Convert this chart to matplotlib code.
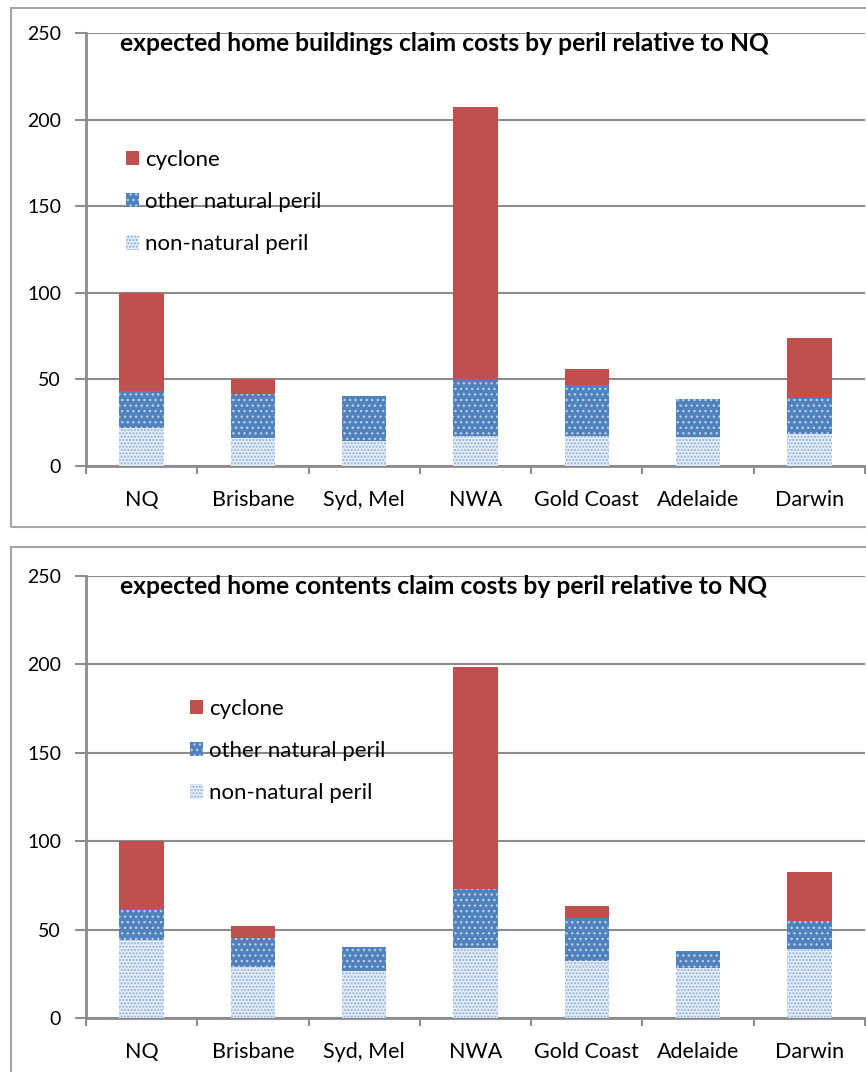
import matplotlib
matplotlib.use("Agg")
import matplotlib.pyplot as plt
from matplotlib.patches import Rectangle, Patch
import numpy as np

plt.rcParams['font.family'] = ['Lato', 'DejaVu Sans']
plt.rcParams['hatch.linewidth'] = 1.0

regions = ['NQ', 'Brisbane', 'Syd, Mel', 'NWA', 'Gold Coast', 'Adelaide', 'Darwin']

# home buildings
bld_non_natural = [22, 16, 14.5, 17.5, 17.5, 16.5, 18.5]
bld_other_natural = [21.5, 25.5, 26, 33, 29.5, 22, 21]
bld_cyclone = [56.5, 8.5, 0, 156.5, 9, 0, 34.5]

# home contents
cnt_non_natural = [44, 29, 26.5, 39.5, 32.5, 28.5, 39]
cnt_other_natural = [17.5, 16.5, 13.5, 33.5, 24, 9.5, 16]
cnt_cyclone = [38.5, 6.5, 0, 125.5, 7, 0, 27.5]

titles = ['expected home buildings claim costs by peril relative to NQ',
          'expected home contents claim costs by peril relative to NQ']

CYC = '#c0504d'
OTH = '#4f81bd'
NON_FACE = '#e4ecf7'
NON_DOT = '#8fb0dd'
GREY = '#8c8c8c'

W, H = 866, 1072
fig = plt.figure(figsize=(W / 100, H / 100), dpi=100)

# panel frames
fig.patches.append(Rectangle((11 / W, 1 - 527 / H), 870 / W, 519 / H, transform=fig.transFigure,
                             fill=False, edgecolor='#a6a6a6', lw=1.5))
fig.patches.append(Rectangle((11 / W, -0.05), 870 / W, 0.05 + 1 - 547 / H, transform=fig.transFigure,
                             fill=False, edgecolor='#a6a6a6', lw=1.5))


def panel(top_px, bot_px, non, oth, cyc, title, leg_xy):
    ax = fig.add_axes([86 / W, 1 - bot_px / H, 779 / W, (bot_px - top_px) / H])
    x = np.arange(len(regions))
    non = np.array(non)
    oth = np.array(oth)
    cyc = np.array(cyc)
    ax.bar(x, non, 0.4, color=NON_FACE, edgecolor=NON_DOT, hatch='.....', lw=0, zorder=3)
    ax.bar(x, oth, 0.4, bottom=non, color=OTH, edgecolor='#b9cde8', hatch='...', lw=0, zorder=3)
    ax.bar(x, cyc, 0.4, bottom=non + oth, color=CYC, lw=0, zorder=3)

    ax.set_xlim(-0.5, len(regions) - 0.5)
    ax.set_ylim(0, 250)
    ax.set_yticks(range(0, 251, 50))
    ax.set_xticks(x)
    ax.set_xticklabels(regions, fontsize=15.5)
    ax.set_xticks(np.arange(-0.5, len(regions)), minor=True)
    ax.tick_params(axis='x', which='major', length=0, pad=17)
    ax.tick_params(axis='x', which='minor', length=6, width=1.5, color=GREY, direction='out')
    ax.tick_params(axis='y', length=8, width=1.5, color=GREY, labelsize=14, pad=10)
    ax.grid(axis='y', color=GREY, lw=1.5, zorder=0)
    ax.set_axisbelow(True)
    for s in ['top', 'right']:
        ax.spines[s].set_visible(False)
    for s in ['left', 'bottom']:
        ax.spines[s].set_color(GREY)
        ax.spines[s].set_linewidth(2)

    ax.text(0.044, 244, title, fontsize=17.7, fontweight='bold', va='center', ha='left',
            transform=ax.get_yaxis_transform(), zorder=5)

    handles = [Patch(facecolor=CYC, lw=0),
               Patch(facecolor=OTH, edgecolor='#b9cde8', hatch='...', lw=0),
               Patch(facecolor=NON_FACE, edgecolor=NON_DOT, hatch='.....', lw=0)]
    ax.legend(handles, ['cyclone', 'other natural peril', 'non-natural peril'],
              loc='upper left', bbox_to_anchor=leg_xy, frameon=False, fontsize=16,
              handlelength=0.6, handleheight=0.6, handletextpad=0.25, labelspacing=1.0,
              borderaxespad=0)
    return ax


panel(33, 466, bld_non_natural, bld_other_natural, bld_cyclone, titles[0],
      ((117 - 86) / 779, (466 - 141) / 433))
panel(576, 1018, cnt_non_natural, cnt_other_natural, cnt_cyclone, titles[1],
      ((181 - 86) / 779, (1018 - 690) / 442))

fig.savefig('out.png', dpi=100, facecolor='white')
